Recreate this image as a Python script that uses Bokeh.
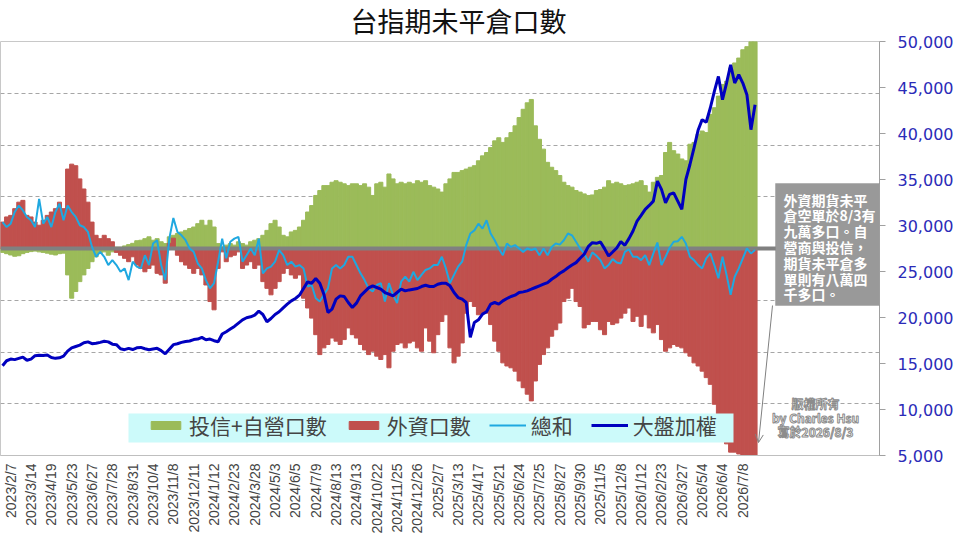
import math
from bokeh.plotting import figure
from bokeh.models import (ColumnDataSource, Range1d, LinearAxis, FixedTicker, SingleIntervalTicker,
                          NumeralTickFormatter, Legend, LegendItem, Label, Arrow, OpenHead, BoxAnnotation)
from bokeh.embed import file_html
from bokeh.resources import INLINE

# 投信+自營 net open interest (contracts), roughly weekly samples
green = [-1500, -2000, -2500, -3000, -2800, -2000, -1500, -1200, -1000, -1300, -1500, -1800, -2200, -2500, -2000, -1800,
         -10200, -19200, -16600, -12800, -10200, -7700, -5100, -3200, -1900, -1300, -2600, -1300, 500,
         500, 1000, 1500, 2000, 3000, 3200, 3800, 4500, 3200, 3800, 2600, 1900, 4500, 5100, 5800, 6400, 7000, 7700, 8300,
         9600, 10900, 9000, 10900, 8300, 1900, 600, 1300, 1900, 1300, 2600, 1900, 1300, 2600, 3200, 3800, 5100, 7000,
         9600, 10900, 8300, 5100, 4500, 6400, 7000, 8300, 10900, 14100, 16600, 20500, 22400, 24300, 24300, 25600, 26200,
         25600, 25000, 24300, 25000, 25000, 24300, 25000, 23700, 20500, 25000, 25600,
         23700, 28800, 26900, 25000, 25600, 25000, 25600, 25000, 26200, 25600, 26200, 24300, 23700, 23000, 21800, 25000,
         26900, 29400, 29400, 30100, 30700, 31400, 32000, 33900, 35800, 37100, 39000, 41600, 42800, 41000, 42800, 44800,
         47400, 50600, 53800, 56300, 57600, 47400, 42200, 38400, 33300, 31400, 30100, 28200, 25600, 24300, 23700,
         22400, 21800, 21100, 20500, 20700, 22400, 22800, 23700, 26200, 25000, 25600, 25000, 24300, 24600, 25000, 25600,
         26200, 24300, 21800, 25600, 27500, 28200, 37100, 41000, 37800, 36500, 34600, 33900, 40300, 41000, 44200, 45400,
         44800, 51800, 54400, 58900, 63400, 64600, 69800, 71700, 73600, 76800, 78000, 83000, 84500]

# 外資 net open interest
red = [10200, 12200, 12800, 15400, 17900, 18600, 12800, 12200, 10200, 9000, 10900, 12800, 14100, 15400, 17900, 15400,
       30700, 32600, 32000, 26900, 23000, 17900, 10200, 5100, 3800, 5100, 3800, 2600, -1500, -2600, -3800, -5100, -3200,
       -6400, -7700, -9000, -7700, -6400, -9600, -10200, -13400, 2000, 4000, -2600, -5100, -6400, -7700, -9600,
       -7700, -10200, -14100, -20500, -23700, -7700, -1300, -5100, -3200, -2600, -1300, -7700, -6400, -5100, -7700, -6400,
       -12800, -15400, -17900, -15400, -12800, -9600, -7700, -10200, -11500, -10200, -19200, -23000, -26900, -33300,
       -41000, -38400, -37100, -34600, -35800, -37100, -35200, -30700, -33300, -34600, -37100, -39200, -41000, -39700,
       -41600, -42900,
       -41000, -46100, -39700, -37100, -36500, -38400, -36500, -35800, -38400, -39700, -30700, -35800, -40300, -33300,
       -28200, -25600, -38400, -44200, -41600, -36500, -25000, -20500, -22400, -25600, -25000, -25000, -29400, -35800,
       -39700, -44200, -45400, -46100, -47400, -51200, -53800, -56300, -58900, -51200, -44800, -41000, -38400, -33900,
       -31400, -28800, -20500, -19200, -15400,
       -20500, -22400, -30700, -29400, -28200, -28200, -31400, -33300, -28200, -29400, -28800, -26900, -25000, -23000,
       -28200, -26200, -30100, -25600, -30700, -32600, -29400, -35200, -39700, -38400, -37100, -37800, -38400, -40300,
       -41600, -44200, -45400, -47400, -49900, -52500, -60200, -65300, -70400, -75500, -78700, -78700, -79400, -84000,
       -88000, -90000, -91000]

# 總和
total = [10200, 8300, 9600, 14100, 16600, 14700, 12200, 10900, 8300, 19200, 9600, 12200, 8300, 14100, 17300, 10900,
         16600, 14100, 12200, 9000, 8300, 6400, 600, -3200, -1300, -3200, -6400, -4500, -6400, -9000, -7700, -12200,
         -5100, -7000, -7700, -2600, -6400, 1900, 3200, -6400, -12200, 3800, 11800, 6400, 5100, 3200, 0, -1300,
         -5800, -7700, -12200, -15400, -13400, -5100, 3800, -3800, 2600, 3800, 4500, -5100, -2600, 0, -2600, 3800,
         -9600, -7700, -7000, -5100, -600, -2600, -6400, -5100, -7000, -6400, -7700, -14700, -14100, -19200, -20500,
         -17900, -15400, -7700, -6400, -7700, -6400, -3200, -3200, -6400, -9600, -12200, -15400, -16600, -14100, -13400,
         -20500, -13400, -17900, -21100, -12800, -10900, -12800, -9000, -12200, -10200, -8300, -7700, -6400, -6400,
         -3200, -7700, -13400, -10200, -7000, -5100, 1300, 5800, 7000, 9600, 7700, 10900, 5800, 3200, 0, -2600, 1900,
         600, 1300, 0, -1300, 0, -600, 0, -2600, 0, -2600, 600, 1900, 1500, 3200, 5800, 5100,
         2600, 0, -1900, -5100, -1500, -2800, -4500, -7700, -6400, -4100, -5400, -5800, -1300, -300, -3200, -3200,
         -4500, -2600, -6400, -1900, 2300, -6400, -3200, 300, 2600, 2800, 4500, 1900, -3200, -4500, -6400, -7700,
         -3800, -1900, -6400, -11500, -3200, -10200, -17900, -10900, -7700, -3800, 0, -1900, -600]

# 大盤加權 (right axis)
taiex = [14760, 15300, 15480, 15420, 15560, 15700, 15350, 15480, 15850, 15900, 15880, 15920, 15650, 15560, 15620, 15800,
         16350, 16700, 16850, 17000, 17250, 17350, 17150, 17200, 17300, 17420, 17350, 17100, 17050, 16600, 16500, 16650,
         16520, 16700, 16750, 16600, 16500, 16580, 16650, 16400, 16050, 16550, 17050, 17150, 17300, 17400, 17450, 17600,
         17655, 17835, 17580, 17655, 17475, 17366, 18200, 18450, 18740, 19030, 19390, 19750, 19970, 20075, 20255, 20690,
         20330, 19535, 19895, 20330, 20620, 21050, 21450, 21810, 22065, 22425, 23150, 23870, 23725, 24235, 23725, 22534,
         20545, 20910, 21990, 22350, 22280, 21630, 21090, 21560, 22350, 22785, 23220, 23440, 23260, 23075,
         22714, 22535, 22350, 22714, 23075, 22895, 23000, 23075, 23150, 23365, 23510, 23365, 23365, 23620, 23725, 23725,
         23440, 22714, 22170, 21990, 21630, 17835, 19460, 19750, 20365, 20620, 21450, 21630, 21450, 21810, 22065, 22280,
         22425, 22714, 22785, 22895, 23075, 23260, 23440, 23620, 23800, 24160, 24450, 24810, 25065, 25400, 25700,
         25966, 26440, 26870, 27700, 28135, 28060, 28210, 27485, 26690, 27120, 27560, 28250, 27850, 28570, 29400, 30485,
         31100, 31750, 32180, 32650, 34820, 33920, 32470, 33375, 33555, 32650, 31750, 35000, 36630, 38435, 40350, 41507,
         41220, 42770, 44580, 46200, 43675, 45485, 47470, 45485, 46385, 45485, 44220, 40420, 43130]

date_labels = ["2023/2/7", "2023/3/14", "2023/4/19", "2023/5/23", "2023/6/27", "2023/7/28", "2023/8/31", "2023/10/4",
               "2023/11/8", "2023/12/11", "2024/1/12", "2024/2/23", "2024/3/28", "2024/5/3", "2024/6/5", "2024/7/9",
               "2024/8/13", "2024/9/13", "2024/10/22", "2024/11/25", "2024/12/26", "2025/2/7", "2025/3/13",
               "2025/4/17", "2025/5/21", "2025/6/24", "2025/7/25", "2025/8/27", "2025/9/30", "2025/11/5", "2025/12/8",
               "2026/1/12", "2026/2/23", "2026/3/27", "2026/5/4", "2026/6/4", "2026/7/8"]

note_text = "外資期貨未平\n倉空單於8/3有\n九萬多口。自\n營商與投信，\n期貨未平倉多\n單則有八萬四\n千多口。"
mark_text = "版權所有\nby Charles Hsu\n寫於2026/8/3"

src = ColumnDataSource(dict(x=list(range(len(green))), green=green, red=red, total=total, taiex=taiex))

p = figure(width=956, height=538, output_backend="svg", toolbar_location=None,
           x_range=Range1d(-0.5, 215.6), y_range=Range1d(-80000, 80000),
           min_border_left=0, min_border_right=76, min_border_top=40, min_border_bottom=83)
p.title.text = "台指期未平倉口數"
p.title.text_font = "Noto Sans CJK TC"
p.title.text_font_size = "27px"
p.title.text_font_style = "normal"
p.title.text_color = "#111111"
p.title.align = "left"
p.title.vertical_align = "top"
p.title.offset = 350
p.title.standoff = 0
p.outline_line_color = "#C8C8C8"
p.yaxis.visible = False
p.xgrid.visible = False
p.ygrid.ticker = SingleIntervalTicker(interval=20000)
p.ygrid.grid_line_color = "#A6A6A6"
p.ygrid.grid_line_dash = "4 3"

tick_pos = [2 + 5 * i for i in range(len(date_labels))]
p.xaxis.ticker = FixedTicker(ticks=tick_pos)
p.xaxis.major_label_overrides = {t: s for t, s in zip(tick_pos, date_labels)}
p.xaxis.major_label_orientation = math.pi / 2
p.xaxis.major_label_text_font = "Liberation Sans"
p.xaxis.major_label_text_font_size = "14px"
p.xaxis.major_label_standoff = 8
p.xaxis.axis_line_color = "#BFBFBF"
p.xaxis.major_tick_line_color = None
p.xaxis.major_tick_out = 0
p.xaxis.minor_tick_line_color = None

p.extra_y_ranges = {"idx": Range1d(5000, 50000)}
right = LinearAxis(y_range_name="idx", ticker=SingleIntervalTicker(interval=5000),
                   formatter=NumeralTickFormatter(format="0,0"))
right.axis_line_color = "#A0A0A0"
right.major_tick_line_color = "#A0A0A0"
right.major_tick_out = 6
right.major_tick_in = 0
right.minor_tick_line_color = None
right.major_label_text_color = "#2B2BB8"
right.major_label_text_font = "DejaVu Sans"
right.major_label_text_font_size = "16px"
right.major_label_standoff = 12
p.add_layout(right, "right")

g = p.vbar(x="x", top="green", width=1.0, fill_color="#9BBB59", line_color="#9BBB59", line_width=1, source=src)
r = p.vbar(x="x", top="red", width=1.0, fill_color="#C0504D", line_color="#C0504D", line_width=1, source=src)
p.hspan(y=[0], line_color="#808080", line_width=4)
s = p.line(x="x", y="total", line_color="#1FA8E0", line_width=2, source=src)
t = p.line(x="x", y="taiex", line_color="#0000BF", line_width=3, y_range_name="idx", source=src)

# legend background box
p.add_layout(BoxAnnotation(left=128, right=733, bottom=13, top=42, left_units="screen", right_units="screen",
                           bottom_units="screen", top_units="screen", fill_color="#CCFAFA", fill_alpha=1,
                           line_color=None))

legend = Legend(items=[LegendItem(label="投信+自營口數", renderers=[g]),
                       LegendItem(label="外資口數", renderers=[r]),
                       LegendItem(label="總和", renderers=[s]),
                       LegendItem(label="大盤加權", renderers=[t])],
                orientation="horizontal", location=(147, 15), margin=0, padding=0,
                background_fill_alpha=0, border_line_color=None,
                label_text_font="Noto Sans CJK TC", label_text_font_size="21px",
                glyph_width=37, glyph_height=10, spacing=18, label_standoff=5)
p.add_layout(legend)

arrow = Arrow(x_start=772, y_start=150, x_end=758, y_end=13, start_units="screen", end_units="screen",
              line_color="#808080", line_width=1, end=OpenHead(size=8, line_color="#808080", line_width=1))
p.add_layout(arrow)

# gray note box with white text
p.add_layout(BoxAnnotation(left=775, right=882, bottom=150, top=272, left_units="screen", right_units="screen",
                           bottom_units="screen", top_units="screen", fill_color="#999999", fill_alpha=1,
                           line_color="#7F7F7F", line_width=1))
note = Label(x=783, y=266, x_units="screen", y_units="screen", text=note_text,
             text_align="left", text_baseline="top", text_color="white",
             text_font="Noto Sans CJK TC", text_font_style="bold", text_font_size="14px", text_line_height=0.79)
p.add_layout(note)

mark = Label(x=815, y=61, x_units="screen", y_units="screen", text=mark_text,
             text_align="center", text_baseline="top", text_color="white", text_outline_color="#8C8C8C",
             text_font="Noto Sans CJK TC", text_font_style="bold", text_font_size="12px", text_line_height=0.85)
p.add_layout(mark)

open("out.html", "w").write(file_html(p, INLINE))
